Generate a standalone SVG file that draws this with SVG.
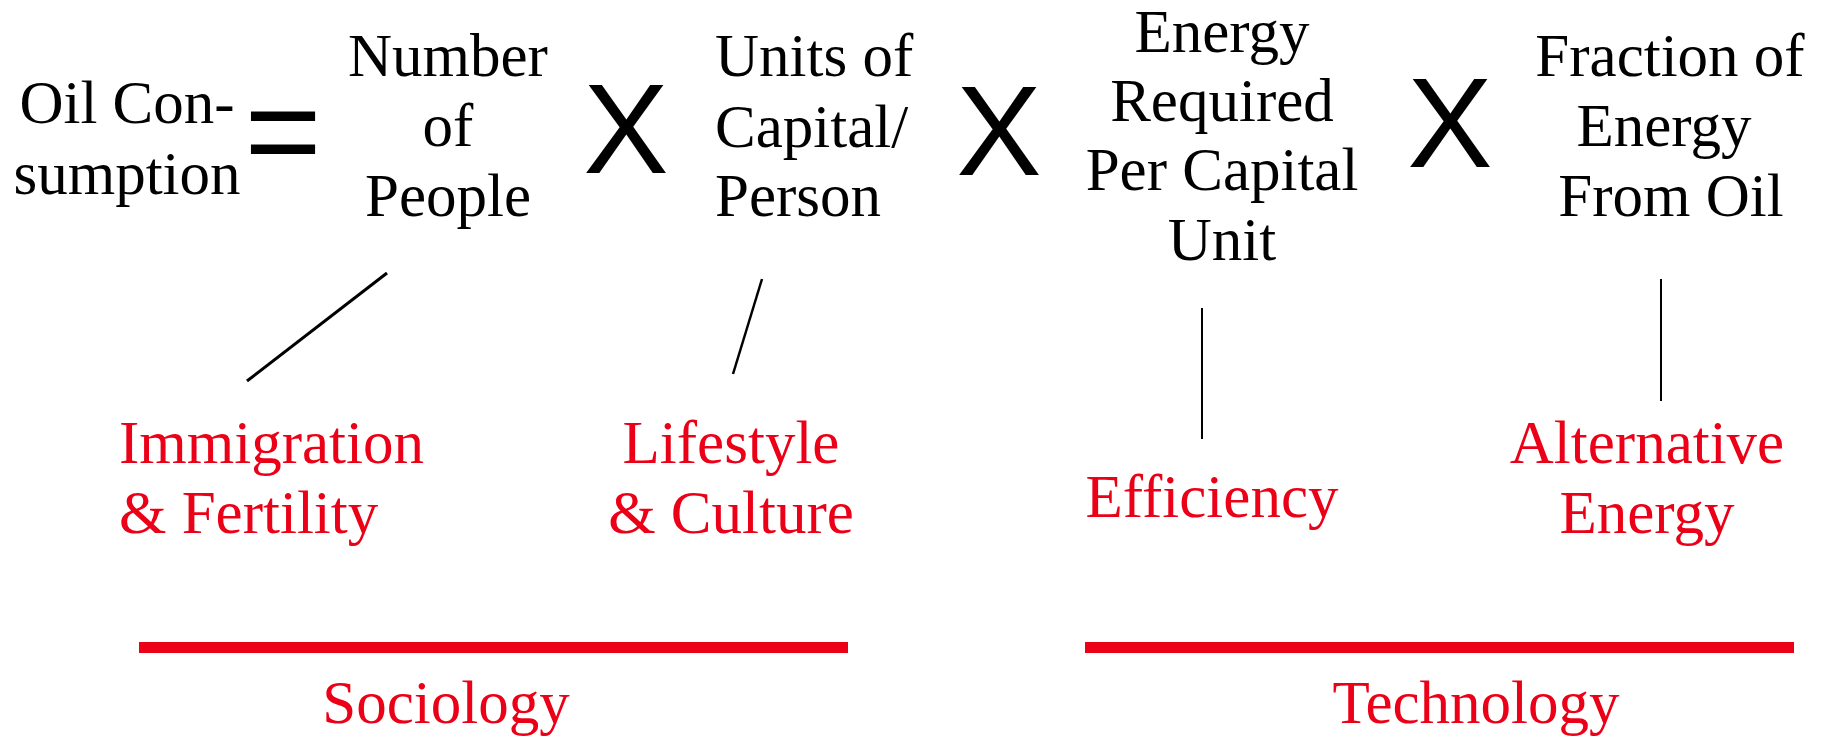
<svg xmlns="http://www.w3.org/2000/svg" width="1829" height="736" viewBox="0 0 1829 736">
<style>
.t{font-family:"Liberation Serif","Times New Roman",serif;font-size:61px;fill:#000}
.r{font-family:"Liberation Serif","Times New Roman",serif;font-size:61px;fill:#EB0017}
.op{font-family:"Liberation Sans",Arial,sans-serif;fill:#000}
.c{text-anchor:middle}
.ln{stroke:#000;fill:none}
.bar{fill:#EB0017}
</style>
<rect width="1829" height="736" fill="#fff"/>
<g id="connectors">
<line class="ln" x1="387" y1="273" x2="247" y2="381" stroke-width="3"/>
<line class="ln" x1="762" y1="279" x2="733" y2="374" stroke-width="2.5"/>
<line class="ln" x1="1202" y1="308" x2="1202" y2="439" stroke-width="2"/>
<line class="ln" x1="1661" y1="279" x2="1661" y2="401" stroke-width="2"/>
</g>
<g id="oil-consumption">
<text class="t c" x="127" y="123">Oil Con-</text>
<text class="t c" x="127" y="194">sumption</text>
</g>
<g id="op-equals"><text class="op c" x="283" y="176" font-size="132">=</text></g>
<g id="number-of-people">
<text class="t c" x="448" y="76">Number</text>
<text class="t c" x="448" y="146">of</text>
<text class="t c" x="448" y="216">People</text>
</g>
<g id="op-times-1"><text class="op c" x="626" y="173" font-size="128">X</text></g>
<g id="units-of-capital">
<text class="t" x="715" y="76">Units of</text>
<text class="t" x="715" y="147">Capital/</text>
<text class="t" x="715" y="216">Person</text>
</g>
<g id="op-times-2"><text class="op c" x="999" y="175" font-size="128">X</text></g>
<g id="energy-required">
<text class="t c" x="1222" y="52">Energy</text>
<text class="t c" x="1222" y="121">Required</text>
<text class="t c" x="1222" y="190">Per Capital</text>
<text class="t c" x="1222" y="260">Unit</text>
</g>
<g id="op-times-3"><text class="op c" x="1450" y="167" font-size="128">X</text></g>
<g id="fraction-from-oil">
<text class="t c" x="1670" y="76">Fraction of</text>
<text class="t c" x="1664" y="146">Energy</text>
<text class="t c" x="1671" y="216">From Oil</text>
</g>
<g id="immigration-fertility">
<text class="r" x="119" y="463">Immigration</text>
<text class="r" x="119" y="533">&amp; Fertility</text>
</g>
<g id="lifestyle-culture">
<text class="r c" x="731" y="463">Lifestyle</text>
<text class="r c" x="731" y="533">&amp; Culture</text>
</g>
<g id="efficiency">
<text class="r c" x="1212" y="517">Efficiency</text>
</g>
<g id="alternative-energy">
<text class="r c" x="1647" y="463">Alternative</text>
<text class="r c" x="1647" y="533">Energy</text>
</g>
<g id="sociology">
<rect class="bar" x="139" y="642" width="709" height="11"/>
<text class="r c" x="446" y="723">Sociology</text>
</g>
<g id="technology">
<rect class="bar" x="1085" y="642" width="709" height="11"/>
<text class="r c" x="1476" y="723">Technology</text>
</g>
</svg>
